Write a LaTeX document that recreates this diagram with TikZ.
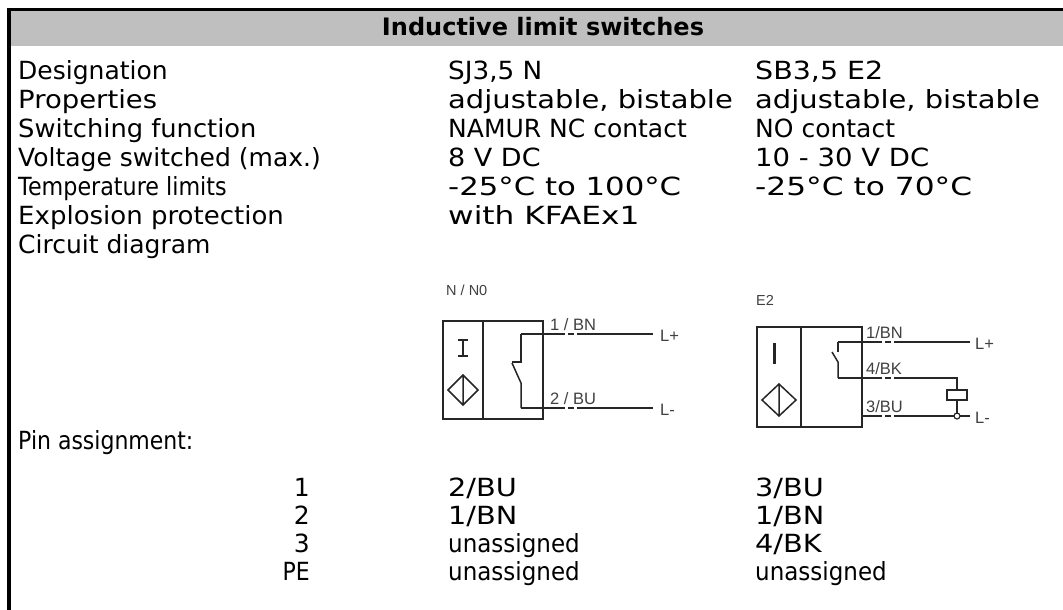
\documentclass[tikz,border=0pt]{standalone}
\usepackage{graphicx}
\usepackage{fontspec}
\setmainfont{DejaVu Sans}
\newfontfamily\cfont{Liberation Sans}
\newcommand{\hstr}[2]{\scalebox{#1}[1]{#2}}
\begin{document}
\begin{tikzpicture}[x=1pt,y=-1pt,
  txt/.style={anchor=base west,inner sep=0pt,font=\fontsize{25}{25}\selectfont},
  num/.style={anchor=base east,inner sep=0pt,font=\fontsize{25}{25}\selectfont},
  lbl/.style={anchor=base west,inner sep=0pt,font=\cfont\fontsize{16.5}{16.5}\selectfont,text=black!75},
  hlbl/.style={anchor=base west,inner sep=0pt,font=\cfont\fontsize{14.5}{14.5}\selectfont,text=black!75},
  wire/.style={line width=1.5pt,draw=black!85},
  sbox/.style={line width=1.5pt,draw=black!85},
  dwire/.style={wire,dash pattern=on 44pt off 3pt on 6pt off 3pt on 300pt}]
\useasboundingbox (0,0) rectangle (1063,610);
% frame
\fill[gray!50] (10,11.5) rectangle (1063,46.5);
\draw[line width=3pt] (8,10) -- (1063,10);
\draw[line width=3.5pt] (9,8.5) -- (9,610);
\node[anchor=base,inner sep=0pt,font=\bfseries\fontsize{24}{24}\selectfont] (title) at (543,36) {Inductive limit switches};
% rows
\node[txt] (a1) at (18,79) {Designation};
\node[txt] (b1) at (448,79) {\hstr{1.05}{SJ3,5 N}};
\node[txt] (c1) at (755,79) {\hstr{1.14}{SB3,5 E2}};
\node[txt] (a2) at (18,108) {\hstr{1.1}{Properties}};
\node[txt] (b2) at (448,108) {\hstr{1.16}{adjustable, bistable}};
\node[txt] (c2) at (755,108) {\hstr{1.16}{adjustable, bistable}};
\node[txt] (a3) at (18,137) {\hstr{1.03}{Switching function}};
\node[txt] (b3) at (448,137) {NAMUR NC contact};
\node[txt] (c3) at (755,137) {NO contact};
\node[txt] (a4) at (18,166) {Voltage switched (max.)};
\node[txt] (b4) at (448,166) {\hstr{1.08}{8 V DC}};
\node[txt] (c4) at (755,166) {\hstr{1.1}{10 - 30 V DC}};
\node[txt] (a5) at (18,195) {\hstr{0.89}{Temperature limits}};
\node[txt] (b5) at (448,195) {\hstr{1.23}{-25°C to 100°C}};
\node[txt] (c5) at (755,195) {\hstr{1.25}{-25°C to 70°C}};
\node[txt] (a6) at (18,224) {\hstr{1.04}{Explosion protection}};
\node[txt] (b6) at (448,224) {\hstr{1.25}{with KFAEx1}};
\node[txt] (a7) at (18,253) {Circuit diagram};
% pin assignment
\node[txt] (p0) at (18,449) {\hstr{0.88}{Pin assignment:}};
\node[num] (p1) at (310,496) {1};
\node[txt] (p1b) at (448,496) {\hstr{1.15}{2/BU}};
\node[txt] (p1c) at (755,496) {\hstr{1.15}{3/BU}};
\node[num] (p2) at (310,524) {2};
\node[txt] (p2b) at (448,524) {\hstr{1.15}{1/BN}};
\node[txt] (p2c) at (755,524) {\hstr{1.15}{1/BN}};
\node[num] (p3) at (310,552) {3};
\node[txt] (p3b) at (448,552) {\hstr{0.92}{unassigned}};
\node[txt] (p3c) at (755,552) {\hstr{1.15}{4/BK}};
\node[num] (p4) at (310,580) {\hstr{0.88}{PE}};
\node[txt] (p4b) at (448,580) {\hstr{0.92}{unassigned}};
\node[txt] (p4c) at (755,580) {\hstr{0.92}{unassigned}};
% ---- circuit N / N0
\node[hlbl] (nlab) at (446,295) {N / N0};
\draw[sbox] (443,321) rectangle (543,419);
\draw[sbox] (483,321) -- (483,419);
\draw[line width=2.4pt,black!85] (458,340) -- (468,340) (463,340) -- (463,356) (458,356) -- (468,356);
\draw[line width=1.5pt,black!85] (463,375) -- (478,390) -- (463,405) -- (448,390) -- cycle (463,375) -- (463,405);
\coordinate (n1) at (521,334);
\coordinate (n1e) at (653,334);
\coordinate (n2) at (521,408);
\coordinate (n2e) at (653,408);
\draw[wire] (n1) -- (521,362) -- (512,362);
\draw[wire] (512,363) -- (521,383) -- (n2);
\draw[dwire] (n1) -- (n1e);
\draw[dwire] (n2) -- (n2e);
\node[lbl] (nbn) at (550,330) {1 / BN};
\node[lbl] (nbu) at (550,404) {2 / BU};
\node[lbl,anchor=west] (nlp) at (660,336) {L+};
\node[lbl,anchor=west] (nlm) at (660,410) {L-};
% ---- circuit E2
\node[hlbl] (elab) at (756,305) {E2};
\draw[sbox] (757,327) rectangle (862,427);
\draw[sbox] (801,327) -- (801,427);
\draw[line width=3pt,black!85] (774,343) -- (774,364);
\draw[line width=1.5pt,black!85] (779,384) -- (796,400) -- (779,416) -- (762,400) -- cycle (779,384) -- (779,416);
\coordinate (e1) at (838,342);
\coordinate (e1e) at (970,342);
\coordinate (e4) at (838,378);
\coordinate (e4e) at (957,378);
\coordinate (e3) at (862,416);
\coordinate (e3e) at (970,416);
\coordinate (ej) at (957,416);
\draw[wire] (e1) -- (838,352);
\draw[wire] (832,352) -- (838,362) -- (e4);
\draw[dwire] (e1) -- (e1e);
\draw[dwire] (e4) -- (e4e) -- (957,390);
\draw[wire,dash pattern=on 20pt off 3pt on 6pt off 3pt on 300pt] (e3) -- (e3e);
\draw[sbox] (947,390) rectangle (967,400);
\draw[wire] (957,400) -- (ej);
\draw[line width=1.2pt,black!85,fill=white] (ej) circle (3);
\node[lbl] (ebn) at (866,338) {1/BN};
\node[lbl] (ebk) at (866,374) {4/BK};
\node[lbl] (ebu) at (866,412) {3/BU};
\node[lbl,anchor=west] (elp) at (975,344) {L+};
\node[lbl,anchor=west] (elm) at (975,418) {L-};
\end{tikzpicture}
\end{document}
